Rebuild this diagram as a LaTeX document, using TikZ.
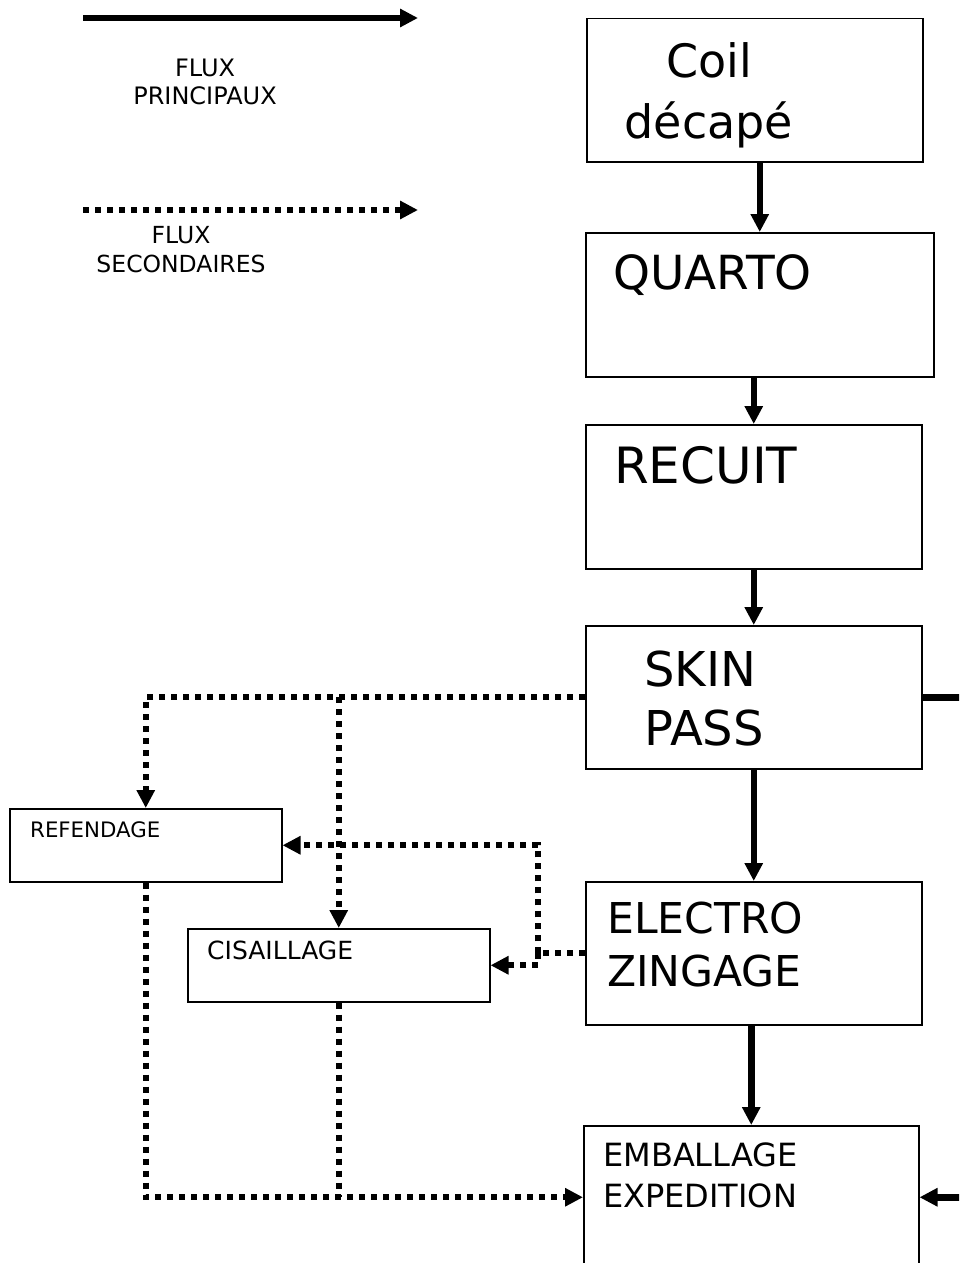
\documentclass[tikz,border=0pt]{standalone}
\usepackage{fontspec}
\setmainfont{DejaVu Sans}
\usetikzlibrary{arrows.meta}

\tikzset{
    box/.style={draw, line width=1.5pt, anchor=north west, inner sep=0pt, minimum height=143pt},
    flux/.style={line width=6.5pt, -{Triangle[length=18pt,width=17.5pt]}},
    fluxsec/.style={line width=6pt, dash pattern=on 6pt off 6pt, -{Triangle[length=18pt,width=17.5pt]}},
    txt/.style={inner sep=0pt, anchor=base west, align=left},
    legtxt/.style={inner sep=0pt, anchor=base, align=center},
}

\begin{document}
\begin{tikzpicture}[x=1pt,y=-1pt, line join=miter]
    \useasboundingbox (0,0) rectangle (959,1263);
    \clip (0,0) rectangle (959,1263);

    % Legend
    \coordinate (solidA) at (83,18);
    \coordinate (solidB) at (418,18);
    \coordinate (dotA) at (83,210);
    \coordinate (dotB) at (418,210);
    \draw[flux] (solidA) -- (solidB);
    \draw[fluxsec] (dotA) -- (dotB);
    \node[legtxt, font=\fontsize{24}{28}\selectfont] (lprinc) at (205,104) {FLUX\\PRINCIPAUX};
    \node[legtxt, font=\fontsize{23.5}{29}\selectfont] (lsec) at (181,272) {FLUX\\SECONDAIRES};

    % Main line
    \node[box, minimum width=336pt] (coil) at (586,18) {};
    \node[box, minimum width=348pt, minimum height=144pt] (quarto) at (585,232) {};
    \node[box, minimum width=336pt, minimum height=144pt] (recuit) at (585,424) {};
    \node[box, minimum width=336pt] (skin) at (585,625) {};
    \node[box, minimum width=336pt] (electro) at (585,881) {};
    \node[box, minimum width=335pt] (emb) at (583,1125) {};

    % Side lines
    \node[box, minimum width=272pt, minimum height=73pt] (refend) at (9,808) {};
    \node[box, minimum width=302pt, minimum height=73pt] (cisail) at (187,928) {};

    % Texts
    \node[inner sep=0pt, anchor=base, align=center, font=\fontsize{46}{61}\selectfont] (coiltxt) at (709,138) {Coil\\décapé};
    \node[txt, font=\fontsize{47}{61}\selectfont] (quartotxt) at (613,289) {QUARTO};
    \node[txt, font=\fontsize{50}{59}\selectfont] (recuittxt) at (614,483) {RECUIT};
    \node[txt, font=\fontsize{48}{59}\selectfont] (skintxt) at (644,745) {SKIN\\PASS};
    \node[txt, font=\fontsize{42.5}{53}\selectfont] (electrotxt) at (607,986) {ELECTRO\\ZINGAGE};
    \node[txt, font=\fontsize{32}{41}\selectfont] (embtxt) at (603,1207) {EMBALLAGE\\EXPEDITION};
    \node[txt, font=\fontsize{21.3}{25}\selectfont] (refendtxt) at (30,837) {REFENDAGE};
    \node[txt, font=\fontsize{25}{28}\selectfont] (cisailtxt) at (207,959) {CISAILLAGE};

    % Main flows
    \foreach \a/\b in {coil/quarto,quarto/recuit,recuit/skin,skin/electro,electro/emb}
        \draw[flux] (\a.south -| \b.north) -- (\b.north);
    \coordinate (skinout) at ([xshift=60pt]skin.east);
    \coordinate (embin) at ([xshift=60pt]emb.east);
    \draw[flux,-] (skin.east) -- (skinout);
    \draw[flux] (embin) -- (emb.east);

    % Secondary flows
    \coordinate (split) at ([xshift=-47pt]electro.west);
    \draw[fluxsec] (skin.west) -| (refend.north);
    \draw[fluxsec] (skin.west -| cisail.north) -- (cisail.north);
    \draw[fluxsec,-] (electro.west) -- (split);
    \draw[fluxsec] (split) |- (refend.east);
    \draw[fluxsec] (split) |- (cisail.east);
    \draw[fluxsec] (refend.south) |- (emb.west);
    \draw[fluxsec,-] (cisail.south) -- (cisail.south |- emb.west);
\end{tikzpicture}
\end{document}
